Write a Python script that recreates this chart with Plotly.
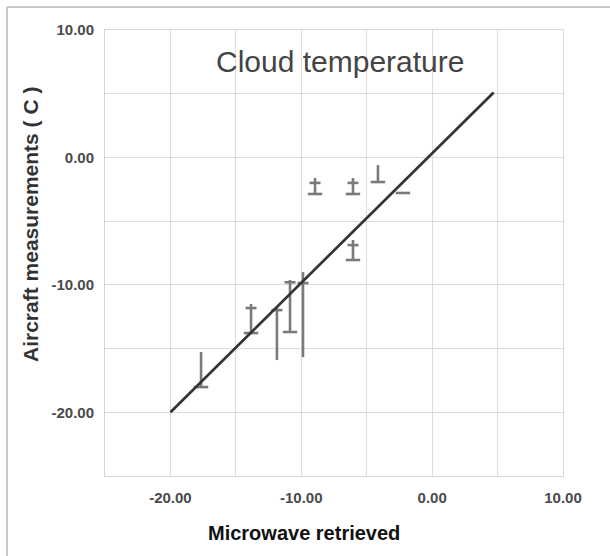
import plotly.graph_objects as go

# ---- data ----
x_retrieved = [-17.66, -13.84, -11.86, -10.86, -9.87, -8.95, -6.05, -6.05, -4.14, -2.23]
y_high = [-15.27, -11.50, -11.82, -9.62, -9.00, -1.62, -1.62, -6.48, -0.60, -2.79]
y_low = [-18.02, -13.78, -15.90, -13.70, -15.67, -2.87, -2.87, -8.05, -1.93, -2.79]
cap_upper = [None, -11.82, -11.98, -9.80, -9.86, -2.00, -2.00, -6.88, None, None]
cap_lower = [-18.02, -13.78, None, -13.70, None, -2.87, -2.87, -8.05, -1.93, -2.79]

fit_x = [-20.0, 4.7]
fit_y = [-20.0, 5.1]

tick_vals = [-20, -15, -10, -5, 0, 5, 10]
tick_text = ["<b>-20.00</b>", "", "<b>-10.00</b>", "", "<b>0.00</b>", "", "<b>10.00</b>"]

# ---- styles ----
CAP_HALF_LOWER = 0.55
CAP_HALF_UPPER = 0.42
BAR_COLOR = "#7a7a7a"
LINE_COLOR = "#333333"

bx, by = [], []
for x, hi, lo, cu, cl in zip(x_retrieved, y_high, y_low, cap_upper, cap_lower):
    if hi != lo:
        bx += [x, x, None]
        by += [lo, hi, None]
    if cu is not None:
        bx += [x - CAP_HALF_UPPER, x + CAP_HALF_UPPER, None]
        by += [cu, cu, None]
    if cl is not None:
        bx += [x - CAP_HALF_LOWER, x + CAP_HALF_LOWER, None]
        by += [cl, cl, None]

fig = go.Figure()
fig.add_trace(go.Scatter(x=bx, y=by, mode="lines",
                         line=dict(color=BAR_COLOR, width=2.6),
                         hoverinfo="skip", showlegend=False))
fig.add_trace(go.Scatter(x=fit_x, y=fit_y, mode="lines",
                         line=dict(color=LINE_COLOR, width=2.7),
                         showlegend=False))

axis_common = dict(
    tickvals=tick_vals, ticktext=tick_text,
    showgrid=True, gridcolor="#dcdcdc", gridwidth=1,
    zeroline=False, showline=True, linecolor="#d6d6d6", linewidth=1, mirror=True,
    ticks="", tickfont=dict(family="Liberation Sans", size=15, color="#4a4a4a"),
)

fig.update_layout(
    width=610, height=556,
    margin=dict(l=105, r=47, t=30, b=80),
    plot_bgcolor="white", paper_bgcolor="white",
    xaxis=dict(range=[-25, 10], ticklabelstandoff=8, **axis_common),
    yaxis=dict(range=[-25, 10], ticklabelstandoff=7, **axis_common),
    font=dict(family="Liberation Sans"),
)

# pixel -> paper coordinate helpers for annotations & frame
L, R, T, B = 105, 563, 30, 476
def px(xp):
    return (xp - L) / (R - L)
def py(yp):
    return (B - yp) / (B - T)

fig.add_annotation(text="Cloud temperature", x=px(340), y=py(62), xref="paper", yref="paper",
                   showarrow=False, xanchor="center", yanchor="middle",
                   font=dict(family="Liberation Sans", size=30, color="#444444"))
fig.add_annotation(text="<b>Microwave retrieved</b>", x=px(304), y=py(533), xref="paper", yref="paper",
                   showarrow=False, xanchor="center", yanchor="middle",
                   font=dict(family="Liberation Sans", size=20, color="#111111"))
fig.add_annotation(text="<b>Aircraft measurements ( C )</b>", x=px(30), y=py(225), xref="paper", yref="paper",
                   showarrow=False, xanchor="center", yanchor="middle", textangle=-90,
                   font=dict(family="Liberation Sans", size=21, color="#333333"))

# outer frame lines (top and left)
fig.add_shape(type="line", xref="paper", yref="paper", x0=px(7), x1=px(610), y0=py(7), y1=py(7),
              line=dict(color="#c8c8c8", width=2))
fig.add_shape(type="line", xref="paper", yref="paper", x0=px(7), x1=px(7), y0=py(7), y1=py(556),
              line=dict(color="#c8c8c8", width=2))

fig.write_html("out.html")
